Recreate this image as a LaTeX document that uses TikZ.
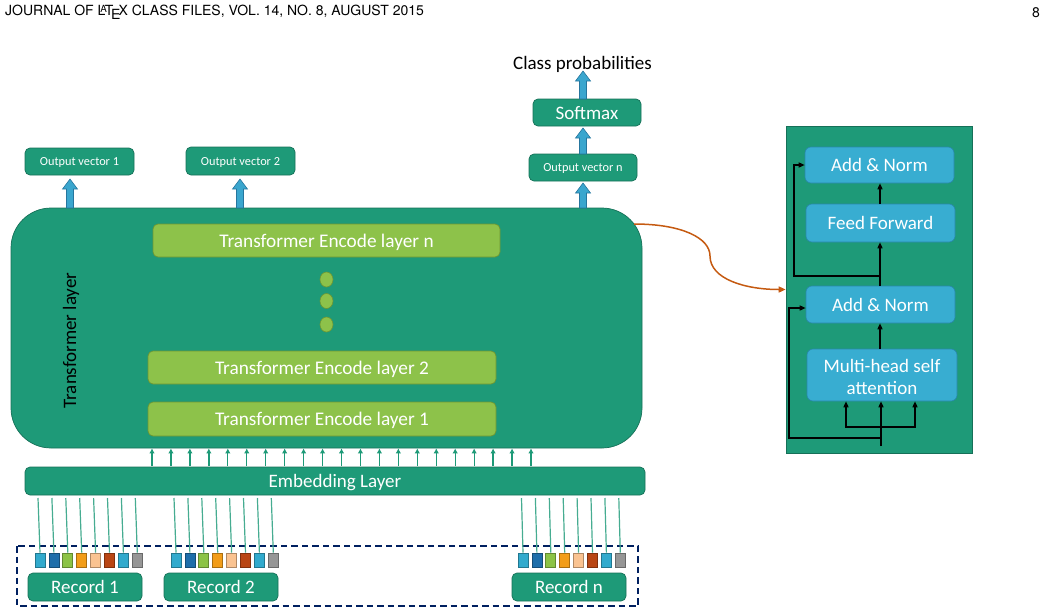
\documentclass[tikz,border=0pt]{standalone}
\usepackage{fontspec}
\setmainfont{Carlito}
\newfontfamily\hdfont{TeX Gyre Heros}
\usetikzlibrary{arrows.meta,calc,shapes.geometric}
\definecolor{tealA}{RGB}{30,154,120}
\definecolor{tealD}{RGB}{22,112,88}
\definecolor{tealL}{RGB}{70,172,145}
\definecolor{lgrn}{RGB}{141,194,74}
\definecolor{lgrnD}{RGB}{110,150,50}
\definecolor{pblue}{RGB}{56,173,209}
\definecolor{pblueD}{RGB}{40,135,170}
\definecolor{ablue}{RGB}{58,166,206}
\definecolor{ablueD}{RGB}{38,118,158}
\definecolor{rustO}{RGB}{197,90,17}
\definecolor{navyD}{RGB}{0,32,96}
\definecolor{sqa}{RGB}{49,170,205}
\definecolor{sqb}{RGB}{30,110,170}
\definecolor{sqc}{RGB}{140,195,70}
\definecolor{sqd}{RGB}{242,157,25}
\definecolor{sqe}{RGB}{250,195,145}
\definecolor{sqf}{RGB}{185,70,20}
\definecolor{sqg}{RGB}{150,150,150}
\begin{document}
\begin{tikzpicture}[x=1pt,y=-1pt,
  every node/.style={inner sep=0pt},
  big/.style={font=\fontsize{19}{22.5}\selectfont},
  lift/.style={text height=15.5pt, text depth=2.5pt},
  tbox/.style={draw=tealD, fill=tealA, rounded corners=5pt, text=white, line width=0.7pt, big, lift},
  sbox/.style={draw=tealD, fill=tealA, rounded corners=5pt, text=white, line width=0.7pt,
     font=\fontsize{12.3}{14}\selectfont, text height=10pt, text depth=1.5pt},
  gbox/.style={draw=lgrnD, fill=lgrn, rounded corners=5pt, text=white, line width=0.7pt,
     font=\fontsize{19.3}{23}\selectfont, text height=16pt, text depth=2.5pt},
  bbox/.style={draw=pblueD, fill=pblue, rounded corners=6pt, text=white, line width=0.6pt, big, align=center},
  gdot/.style={ellipse, draw=lgrnD, fill=lgrn, line width=0.6pt, minimum width=13pt, minimum height=15pt},
  sqr/.style={minimum width=10pt, minimum height=14pt, line width=0.8pt},
  eline/.style={draw=tealL, line width=1.2pt},
  sarrow/.style={draw=tealA, line width=1.3pt, -{Latex[length=5pt,width=5.5pt]}},
  barr/.style={draw=black, line width=1.4pt, -{Triangle[length=6pt,width=5pt]}},
  barrow/.style={fill=ablue, draw=ablueD, line width=0.6pt,
    to path={let \p1=(\tikztostart), \p2=(\tikztotarget) in
      (\x1-3.5pt,\y1) -- (\x1-3.5pt,\y2-10pt) -- (\x1-7.5pt,\y2-10pt) -- (\x1,\y2)
      -- (\x1+7.5pt,\y2-10pt) -- (\x1+3.5pt,\y2-10pt) -- (\x1+3.5pt,\y1) -- cycle}},
  orarr/.style={draw=rustO, line width=1.5pt, -{Triangle[length=7pt,width=6pt]}}
]
\useasboundingbox (0,0) rectangle (1045,614);

% header
\node[anchor=west, font=\hdfont\fontsize{14}{16}\selectfont] (hdr) at (5,12.5) {JOURNAL OF \LaTeX\ CLASS FILES, VOL. 14, NO. 8, AUGUST 2015};
\node[font=\hdfont\fontsize{14}{16}\selectfont] (pg) at (1036,12.5) {8};

% transformer block
\node[draw=tealD, fill=tealA, rounded corners=40pt, line width=0.7pt, minimum width=631pt, minimum height=240pt] (tl) at (326.5,328) {};
\node[rotate=90, big] (tlab) at (71,340.5) {Transformer layer};
\node[gbox, minimum width=347pt, minimum height=33pt] (encn) at (326.5,240.5) {Transformer Encode layer n};
\node[gbox, minimum width=348pt, minimum height=33pt] (enc2) at (322,367.5) {Transformer Encode layer 2};
\node[gbox, minimum width=348pt, minimum height=34pt] (enc1) at (322,419) {Transformer Encode layer 1};
\node[gdot] (d1) at (326.5,279.5) {};
\node[gdot] (d2) at (326.5,301) {};
\node[gdot] (d3) at (326.5,324.5) {};

% outputs
\node[sbox, minimum width=109pt, minimum height=27pt] (ov1) at (79.5,161.5) {Output vector 1};
\node[sbox, minimum width=109pt, minimum height=28pt] (ov2) at (240.5,161) {Output vector 2};
\node[sbox, minimum width=108pt, minimum height=27pt] (ovn) at (583,167.5) {Output vector n};
\node[tbox, minimum width=108pt, minimum height=27pt] (sm) at (587,112.5) {Softmax};
\node[big, lift] (cp) at (582.5,63) {Class probabilities};

\coordinate (a1s) at (70,208);  \coordinate (a1e) at (70,179);
\coordinate (a2s) at (240,208); \coordinate (a2e) at (240,179);
\coordinate (a3s) at (583,208); \coordinate (a3e) at (583,183);
\coordinate (a4s) at (583,154); \coordinate (a4e) at (583,128);
\coordinate (a5s) at (583,99);  \coordinate (a5e) at (583,71);
\draw[barrow] (a1s) to (a1e);
\draw[barrow] (a2s) to (a2e);
\draw[barrow] (a3s) to (a3e);
\draw[barrow] (a4s) to (a4e);
\draw[barrow] (a5s) to (a5e);

% embedding
\node[tbox, minimum width=620pt, minimum height=28pt] (emb) at (335,481) {Embedding Layer};
\foreach \i in {0,...,20} {
  \coordinate (u\i) at (152+18.95*\i,466);
  \draw[sarrow] (u\i) -- (u\i |- tl.south);
}

% records
\draw[navyD, line width=2.4pt, dash pattern=on 6.5pt off 4pt] (17,546) rectangle (638,606);
\node[tbox, minimum width=114pt, minimum height=28pt] (rec1) at (85,587) {Record 1};
\node[tbox, minimum width=114pt, minimum height=28pt] (rec2) at (221,587) {Record 2};
\node[tbox, minimum width=114pt, minimum height=28pt] (recn) at (569,587) {Record n};
\foreach \rec/\sx/\tx in {ra/40/38, rb/176/174, rn/523/521.5} {
  \foreach \c [count=\i from 0] in {sqa,sqb,sqc,sqd,sqe,sqf,sqa,sqg} {
    \node[sqr, fill=\c, draw=\c!70!black] (\rec-s\i) at (\sx+13.9*\i,560) {};
    \coordinate (\rec-t\i) at (\tx+13.9*\i,498);
    \draw[eline] (\rec-t\i) -- (\rec-s\i.north);
  }
}

% right panel
\node[draw=tealD, fill=tealA, line width=0.7pt, minimum width=186pt, minimum height=327pt] (panel) at (879,289.5) {};
\node[bbox, lift, minimum width=149pt, minimum height=36pt] (an2) at (879.5,165) {Add \& Norm};
\node[bbox, lift, minimum width=149pt, minimum height=38pt] (ff) at (880.5,223) {Feed Forward};
\node[bbox, lift, minimum width=149pt, minimum height=37pt] (an1) at (880.5,304.5) {Add \& Norm};
\node[bbox, minimum width=150pt, minimum height=52pt] (mh) at (882,375) {};
\node[big, text=white, align=center] (mht) at (882,377) {Multi-head self\\attention};

\coordinate (m1) at (880,349);
\draw[barr] (m1) -- (m1 |- an1.south);
\coordinate (m2) at (880,286);
\draw[barr] (m2) -- (m2 |- ff.south);
\coordinate (m3) at (880,204);
\draw[barr] (m3) -- (m3 |- an2.south);
\coordinate (r1) at (880,276);
\coordinate (r1c) at (794,165);
\draw[barr] (r1) -| (r1c) -- (an2.west);
\coordinate (inp) at (881,446);
\draw[barr] (inp) -- (inp |- mh.south);
\coordinate (br) at (881,427);
\coordinate (bl) at (846,427);
\coordinate (bR) at (915,427);
\draw[barr] (br) -- (bl) -- (bl |- mh.south);
\draw[barr] (br) -- (bR) -- (bR |- mh.south);
\coordinate (r2) at (881,438);
\coordinate (r2c) at (789,308);
\draw[barr] (r2) -| (r2c) -- (r2c -| an1.west);

% link
\coordinate (oc) at (634,224);
\draw[orarr] (oc) .. controls (682,224) and (710,238) .. (710,256) .. controls (710,279) and (745,289.5) .. (panel.west);
\end{tikzpicture}
\end{document}
